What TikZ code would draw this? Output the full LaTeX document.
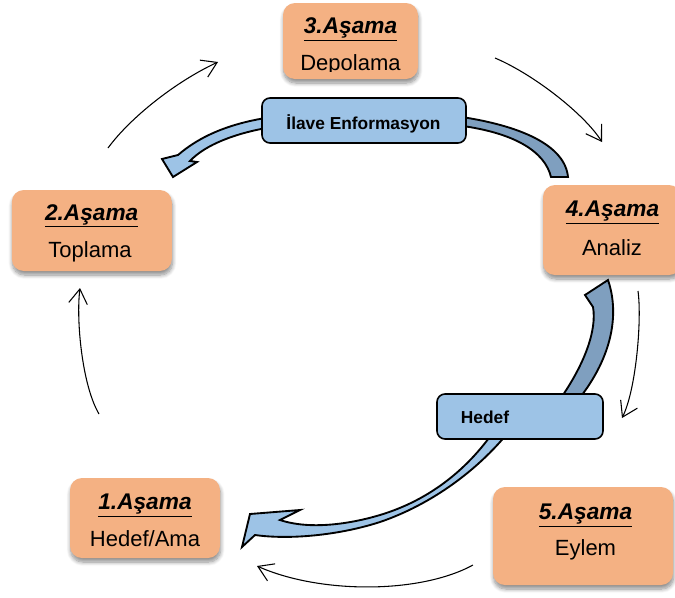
\documentclass[tikz,border=0pt]{standalone}
\usepackage{fontspec}
\setmainfont{Liberation Sans}
\usetikzlibrary{arrows.meta,shadows.blur}
\definecolor{salmon}{HTML}{F4B183}
\definecolor{lblue}{HTML}{9DC3E6}
\definecolor{dblue}{HTML}{7F9FBF}
\begin{document}
\begin{tikzpicture}[x=0.75pt,y=-0.75pt,
  stage/.style={fill=salmon, rounded corners=9pt, inner sep=0pt,
    blur shadow={shadow xshift=0.5pt, shadow yshift=-3pt, shadow blur radius=3pt, shadow blur steps=8, shadow opacity=45}},
  info/.style={fill=lblue, draw=black, line width=1.2pt, rounded corners=6pt, inner sep=0pt},
  thin/.style={line width=0.8pt, -{Straight Barb[length=11pt,width=14pt]}},
  band/.style={draw=black, line width=1.4pt, line join=miter},
  headt/.style={font=\fontsize{17}{20}\selectfont\bfseries\itshape, anchor=base, inner sep=0pt},
  bodyt/.style={font=\fontsize{16.5}{20}\selectfont, anchor=base, inner sep=0pt},
  labt/.style={font=\fontsize{13}{15}\selectfont\bfseries, anchor=base, inner sep=0pt}]
\useasboundingbox (0,0) rectangle (675,597);

% thin cycle arrows
\coordinate (a1s) at (108,148); \coordinate (a1e) at (218,62);
\coordinate (a2s) at (495,58);  \coordinate (a2e) at (602,142);
\coordinate (a3s) at (638,291); \coordinate (a3e) at (622,418);
\coordinate (a4s) at (473,565); \coordinate (a4e) at (257,566);
\coordinate (a5s) at (99,414);  \coordinate (a5e) at (80,288);
\draw[thin] (a1s) .. controls (130,118) and (175,82) .. (a1e);
\draw[thin] (a2s) .. controls (535,75) and (585,115) .. (a2e);
\draw[thin] (a3s) .. controls (642,320) and (636,390) .. (a3e);
\draw[thin] (a4s) .. controls (420,594) and (320,594) .. (a4e);
\draw[thin] (a5s) .. controls (82,385) and (76,320) .. (a5e);

% upper curved band (dark back part)
\draw[band, fill=dblue] (455,116) .. controls (520,125) and (565,145) .. (568,177)
  -- (551,177) .. controls (545,152) and (515,132) .. (455,125) -- cycle;
% upper curved band (light part with head)
\draw[band, fill=lblue] (272,117) .. controls (230,123) and (200,136) .. (178,155)
  -- (162,159) -- (173,177) -- (197,162) -- (190,161)
  .. controls (205,145) and (235,133) .. (272,127) -- cycle;

% lower curved band (dark back part)
\draw[band, fill=dblue] (585,295) -- (593,307) .. controls (597,330) and (585,365) .. (556,405)
  -- (574,405) .. controls (612,360) and (620,315) .. (608,280) -- cycle;
% lower curved band (light part with head)
\draw[band, fill=lblue] (498,425) .. controls (470,468) and (430,500) .. (380,515)
  .. controls (350,524) and (310,530) .. (280,520)
  -- (300,510) -- (250,514) -- (242,547) -- (255,535)
  .. controls (290,540) and (340,535) .. (380,522)
  .. controls (430,505) and (480,470) .. (514,425) -- cycle;

% blue label boxes
\node[info, minimum width=153pt, minimum height=33.75pt] (ilave) at (364,120.5) {};
\node[labt] (ilavet) at (363.5,129) {İlave Enformasyon};
\node[info, minimum width=124.5pt, minimum height=33.75pt] (hedef) at (520,416.5) {};
\node[labt] (hedeft) at (485,423.3) {Hedef};

% stage boxes
\node[stage, minimum width=101.25pt, minimum height=57pt] (s3) at (350.5,41) {};
\node[stage, minimum width=120pt, minimum height=60.75pt] (s2) at (91.8,230.5) {};
\node[stage, minimum width=103.5pt, minimum height=67.5pt] (s4) at (612,230) {};
\node[stage, minimum width=112.5pt, minimum height=60pt] (s1) at (145,518) {};
\node[stage, minimum width=135pt, minimum height=73.5pt] (s5) at (583,536) {};

% stage texts
\node[headt] (s3h) at (350.5,33.3) {\underline{3.Aşama}};
\begin{scope}
  \clip (283,0) rectangle (418,71);
  \node[bodyt] (s3b) at (350.5,70) {Depolama};
\end{scope}
\node[headt] (s2h) at (91.7,220) {\underline{2.Aşama}};
\node[bodyt] (s2b) at (90,257.3) {Toplama};
\node[headt] (s4h) at (612.5,216.7) {\underline{4.Aşama}};
\node[bodyt] (s4b) at (612,255) {Analiz};
\node[headt] (s1h) at (145,509.3) {\underline{1.Aşama}};
\node[bodyt] (s1b) at (145,546) {Hedef/Ama};
\node[headt] (s5h) at (585.5,519.3) {\underline{5.Aşama}};
\node[bodyt] (s5b) at (585.5,555) {Eylem};
\end{tikzpicture}
\end{document}
